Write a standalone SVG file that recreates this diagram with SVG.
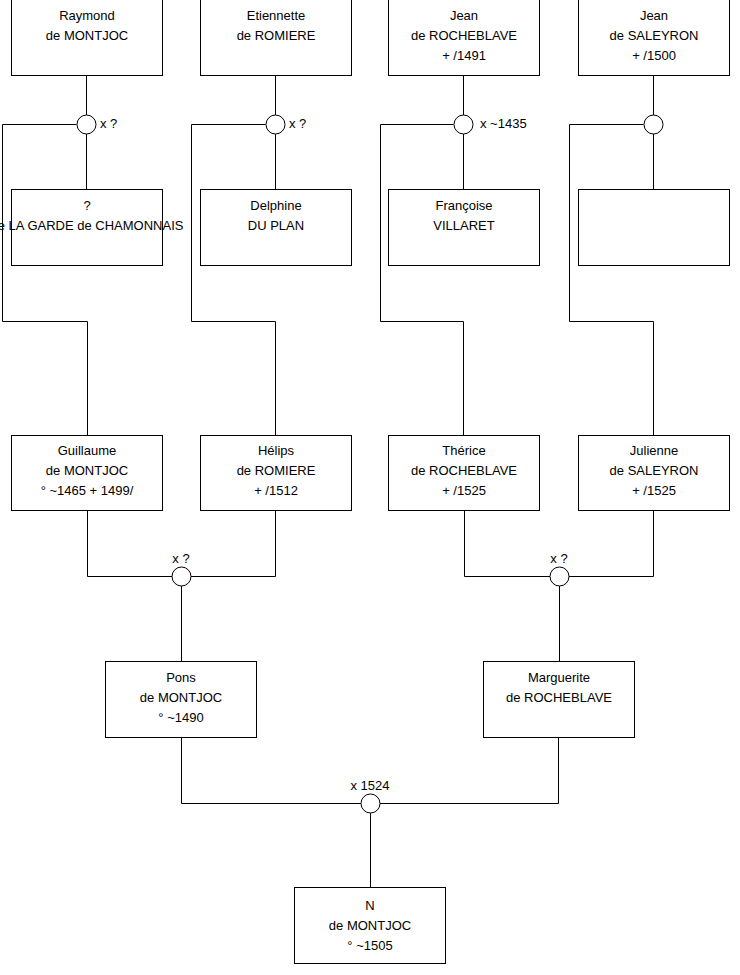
<svg xmlns="http://www.w3.org/2000/svg" width="740" height="975" viewBox="0 0 740 975">
<style>
text{font-family:"Liberation Sans",Arial,sans-serif;font-size:13px;fill:#000}
.b{fill:#fff;stroke:#000;stroke-width:1}
.c{fill:none;stroke:#000;stroke-width:1}
.u{fill:#fff;stroke:#000;stroke-width:1}
.m{text-anchor:middle}
</style>
<rect width="740" height="975" fill="#fff"/>
<g id="connectors" class="c">
<path d="M86.5 75.5V189.5M76.5 124.5H2.5V321.5H87.5V435.5"/>
<path d="M275.5 75.5V189.5M265.5 124.5H191.5V321.5H275.5V435.5"/>
<path d="M463.5 75.5V189.5M453.5 124.5H380.5V321.5H463.5V435.5"/>
<path d="M653.5 75.5V189.5M643.5 124.5H569.5V321.5H653.5V435.5"/>
<path d="M87.5 510.5V576.5H275.5V510.5M181.5 576.5V661.5"/>
<path d="M464.5 510.5V576.5H653.5V510.5M559.5 576.5V661.5"/>
<path d="M181.5 737.5V803.5H558.5V737.5M370.5 803.5V887.5"/>
</g>
<g id="u1"><circle class="u" cx="86.5" cy="124.5" r="9.5"/><text x="100" y="128">x ?</text></g>
<g id="u2"><circle class="u" cx="275.5" cy="124.5" r="9.5"/><text x="289" y="128">x ?</text></g>
<g id="u3"><circle class="u" cx="463.5" cy="124.5" r="9.5"/><text x="480" y="128">x ~1435</text></g>
<g id="u4"><circle class="u" cx="653.5" cy="124.5" r="9.5"/></g>
<g id="u5"><circle class="u" cx="181.5" cy="576.5" r="9.5"/><text class="m" x="181" y="563">x ?</text></g>
<g id="u6"><circle class="u" cx="559.5" cy="576.5" r="9.5"/><text class="m" x="559" y="563">x ?</text></g>
<g id="u7"><circle class="u" cx="370.5" cy="803.5" r="9.5"/><text class="m" x="370" y="790">x 1524</text></g>
<g id="raymond"><rect class="b" x="11.5" y="-0.5" width="151" height="76"/><text class="m" x="87" y="20">Raymond</text><text class="m" x="87" y="40">de MONTJOC</text></g>
<g id="etiennette"><rect class="b" x="200.5" y="-0.5" width="151" height="76"/><text class="m" x="276" y="20">Etiennette</text><text class="m" x="276" y="40">de ROMIERE</text></g>
<g id="jeanR"><rect class="b" x="388.5" y="-0.5" width="151" height="76"/><text class="m" x="464" y="20">Jean</text><text class="m" x="464" y="40">de ROCHEBLAVE</text><text class="m" x="464" y="60">+ /1491</text></g>
<g id="jeanS"><rect class="b" x="578.5" y="-0.5" width="151" height="76"/><text class="m" x="654" y="20">Jean</text><text class="m" x="654" y="40">de SALEYRON</text><text class="m" x="654" y="60">+ /1500</text></g>
<g id="lagarde"><rect class="b" x="11.5" y="189.5" width="151" height="76"/><text class="m" x="87" y="210">?</text><text class="m" x="87" y="230">de LA GARDE de CHAMONNAIS</text></g>
<g id="delphine"><rect class="b" x="200.5" y="189.5" width="151" height="76"/><text class="m" x="276" y="210">Delphine</text><text class="m" x="276" y="230">DU PLAN</text></g>
<g id="francoise"><rect class="b" x="388.5" y="189.5" width="151" height="76"/><text class="m" x="464" y="210">Françoise</text><text class="m" x="464" y="230">VILLARET</text></g>
<g id="unknown"><rect class="b" x="578.5" y="189.5" width="151" height="76"/></g>
<g id="guillaume"><rect class="b" x="11.5" y="435.5" width="151" height="75"/><text class="m" x="87" y="455">Guillaume</text><text class="m" x="87" y="475">de MONTJOC</text><text class="m" x="87" y="495">° ~1465 + 1499/</text></g>
<g id="helips"><rect class="b" x="200.5" y="435.5" width="151" height="75"/><text class="m" x="276" y="455">Hélips</text><text class="m" x="276" y="475">de ROMIERE</text><text class="m" x="276" y="495">+ /1512</text></g>
<g id="therice"><rect class="b" x="388.5" y="435.5" width="151" height="75"/><text class="m" x="464" y="455">Thérice</text><text class="m" x="464" y="475">de ROCHEBLAVE</text><text class="m" x="464" y="495">+ /1525</text></g>
<g id="julienne"><rect class="b" x="578.5" y="435.5" width="151" height="75"/><text class="m" x="654" y="455">Julienne</text><text class="m" x="654" y="475">de SALEYRON</text><text class="m" x="654" y="495">+ /1525</text></g>
<g id="pons"><rect class="b" x="105.5" y="661.5" width="151" height="76"/><text class="m" x="181" y="682">Pons</text><text class="m" x="181" y="702">de MONTJOC</text><text class="m" x="181" y="722">° ~1490</text></g>
<g id="marguerite"><rect class="b" x="483.5" y="661.5" width="151" height="76"/><text class="m" x="559" y="682">Marguerite</text><text class="m" x="559" y="702">de ROCHEBLAVE</text></g>
<g id="n"><rect class="b" x="294.5" y="887.5" width="151" height="76"/><text class="m" x="370" y="910">N</text><text class="m" x="370" y="930">de MONTJOC</text><text class="m" x="370" y="950">° ~1505</text></g>
</svg>
